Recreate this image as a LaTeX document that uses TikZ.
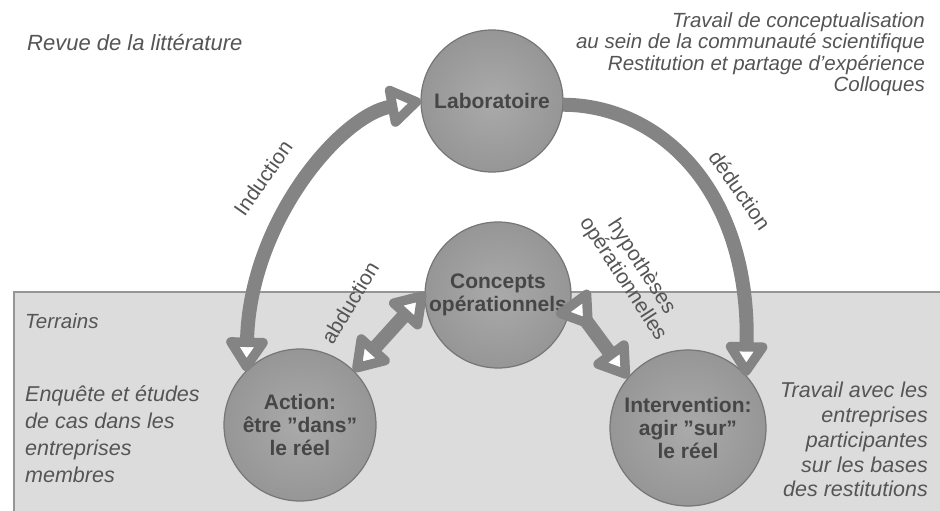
\documentclass[tikz,border=0pt]{standalone}
\usepackage{fontspec}
\setmainfont{Liberation Sans}
\usetikzlibrary{arrows.meta}

\definecolor{ringfill}{RGB}{150,150,150}
\definecolor{ringlight}{RGB}{170,170,170}
\definecolor{ringedge}{RGB}{118,118,118}
\definecolor{flow}{RGB}{132,132,132}
\definecolor{ground}{RGB}{220,220,220}
\definecolor{groundedge}{RGB}{150,150,150}
\definecolor{inktext}{RGB}{70,70,70}
\definecolor{notetext}{RGB}{85,85,85}

\tikzset{
  x=1pt, y=-1pt,
  stage/.style={circle, minimum size=#1, inner sep=0pt, outer sep=0pt,
    draw=ringedge, line width=1.2pt, inner color=ringlight, outer color=ringfill,
    text=inktext, font=\fontsize{21}{23}\selectfont\bfseries, align=center},
  note/.style={inner sep=0pt, text=notetext, font=\fontsize{20.5}{21.5}\selectfont\itshape},
  flowlabel/.style={inner sep=0pt, text=notetext, font=\fontsize{21}{22}\selectfont, align=center},
  bighead/.tip={Triangle[length=38pt, width=47pt, round, fill=white, line width=9.5pt]},
  bigtail/.tip={Triangle[reversed, length=38pt, width=47pt, round, fill=white, line width=9.5pt]},
  link/.style={draw=flow, line width=14pt},
}

\begin{document}
\begin{tikzpicture}
\useasboundingbox (0,0) rectangle (940,511);
\clip (0,0) rectangle (940,511);
\fill[white] (0,0) rectangle (940,511);

% field zone
\draw[fill=ground, draw=groundedge, line width=1.2pt] (14,292) rectangle (960,530);

% the four stages
\node[stage=142pt] (lab) at (492,101) {Laboratoire};
\node[stage=146pt] (con) at (498,295) {Concepts\\opérationnels};
\node[stage=152pt] (act) at (300,425) {Action:\\être "dans"\\le réel};
\node[stage=156pt] (inter) at (688,428) {Intervention:\\agir "sur"\\le réel};

% links between stages
\draw[link, {bighead}-{bighead}] (act.135) .. controls (250,222) and (340,116) .. (lab.180);
\draw[link, -{bighead}] (lab.357) .. controls (660,105) and (750,190) .. (inter.42);
\draw[link, {bighead}-{bighead}] (con.178) -- (act.45);
\draw[link, {bigtail}-{bighead}] (con.-4) -- (inter.140);

% link labels
\node[flowlabel, rotate=55] (tind) at (263,178) {Induction};
\node[flowlabel, rotate=-55] (tded) at (740,190) {déduction};
\node[flowlabel, rotate=59] (tabd) at (350,303) {abduction};
\node[flowlabel, rotate=-57] (thyp) at (632,273) {hypothèses\\opérationnelles};

% side notes
\node[note, anchor=base west, font=\fontsize{22}{23}\selectfont\itshape] (nrev) at (27,51) {Revue de la littérature};
\node[note, anchor=north east, align=right] (ncom) at (925,12)
  {Travail de conceptualisation\\au sein de la communauté scientifique\\Restitution et partage d'expérience\\Colloques};
\node[note, anchor=base west] (nter) at (25,328) {Terrains};
\node[note, anchor=north west, align=left, font=\fontsize{21.5}{27}\selectfont\itshape] (nenq) at (25,385)
  {Enquête et études\\de cas dans les\\entreprises\\membres};
\node[note, anchor=north east, align=right, font=\fontsize{21.5}{24.8}\selectfont\itshape] (ntra) at (928,382)
  {Travail avec les\\entreprises\\participantes\\sur les bases\\des restitutions};
\end{tikzpicture}
\end{document}
